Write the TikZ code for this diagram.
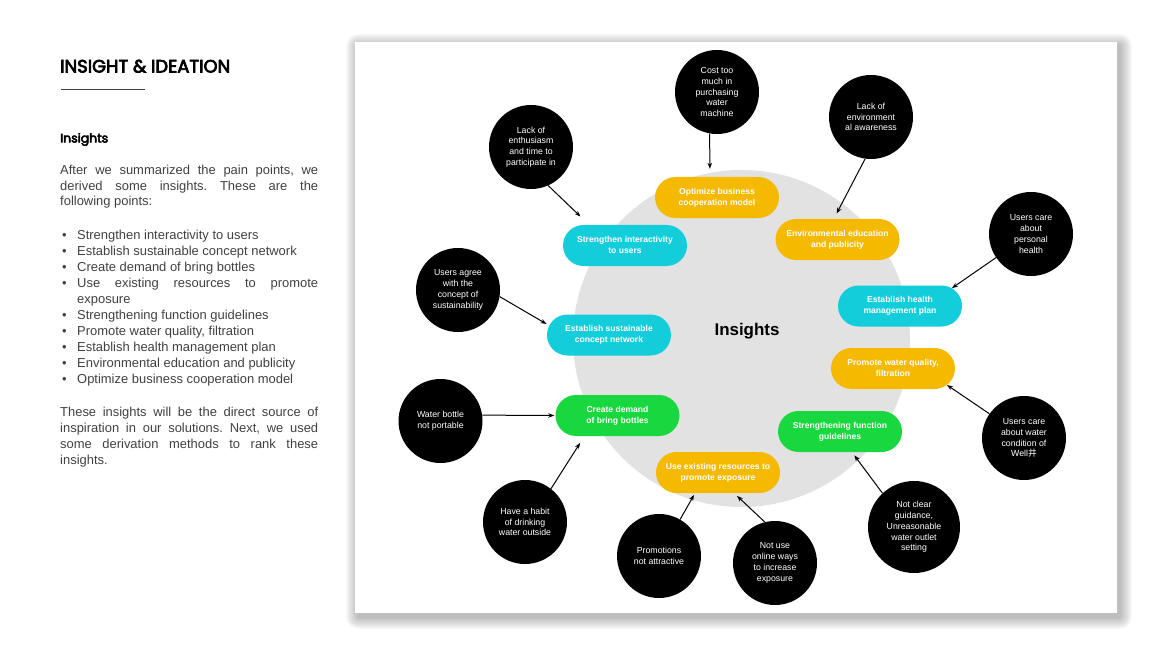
\documentclass[tikz,border=0pt]{standalone}
\usepackage{fontspec}
\setsansfont{Liberation Sans}
\newfontfamily\headfont[FakeBold=4]{Poppins}
\newfontfamily\cjkfont{Noto Sans CJK SC}
\usetikzlibrary{arrows.meta,shapes.misc,calc}
\definecolor{insightYellow}{HTML}{F5B900}
\definecolor{insightCyan}{HTML}{14CDDB}
\definecolor{insightGreen}{HTML}{19D83F}
\definecolor{hubGray}{HTML}{E3E2E3}
\definecolor{bodyGray}{HTML}{404040}

\newcommand{\pilltext}[1]{\makebox[0pt]{\begin{tabular}{@{}c@{}}#1\end{tabular}}}
\newcommand{\insightitem}[1]{\par\hangindent=17bp\hangafter=1\noindent\makebox[17bp][l]{\hspace{2bp}\textbullet}#1}

\begin{document}
\begin{tikzpicture}[
  x=1bp, y=-1bp,
  font=\sffamily,
  >={Stealth[length=6bp,width=4.5bp]},
  pain/.style={circle, fill=black, text=white, minimum size=84bp, inner sep=0pt, align=center,
    font=\sffamily\fontsize{8.8}{10.8}\selectfont},
  insight/.style={rounded rectangle, minimum width=124bp, minimum height=41bp, inner sep=0pt,
    text=white, font=\sffamily\bfseries\fontsize{8.6}{11}\selectfont},
  link/.style={->, line width=1bp, draw=black}
]
  \useasboundingbox (0,0) rectangle (1170,658);

  % Left column
  \node[anchor=base west, inner sep=0pt, font=\headfont\fontsize{18}{20}\selectfont] (heading) at (60,72.5) {INSIGHT \& IDEATION};
  \draw[line width=1bp, draw=bodyGray] (61,90) -- (145,90);
  \node[anchor=base west, inner sep=0pt, font=\headfont\fontsize{12.5}{15}\selectfont] (subhead) at (60,142.5) {Insights};
  \node[anchor=north west, inner sep=0pt, text width=258bp, align=justify, text=bodyGray,
    font={\sffamily\fontsize{13}{16}\selectfont}] (body) at (60,164.5) {%
    \tolerance=9999 \parindent=0pt \frenchspacing
    After we summarized the pain points, we\linebreak derived some insights. These are the\linebreak following points:\par
    \vspace{18bp}%
    \insightitem{Strengthen interactivity to users}
    \insightitem{Establish sustainable concept network}
    \insightitem{Create demand of bring bottles}
    \insightitem{Use existing resources to promote\linebreak exposure}
    \insightitem{Strengthening function guidelines}
    \insightitem{Promote water quality, filtration}
    \insightitem{Establish health management plan}
    \insightitem{Environmental education and publicity}
    \insightitem{Optimize business cooperation model}\par
    \vspace{17bp}%
    These insights will be the direct source of\linebreak inspiration in our solutions. Next, we used\linebreak some derivation methods to rank these\linebreak insights.};

  % Panel with soft shadow
  \foreach \s in {1,...,12} {
    \fill[black, opacity=0.022, rounded corners=\s bp] (358-\s,46-\s) rectangle (1120+\s,617+\s);
  }
  \fill[white] (355,42) rectangle (1117,613);

  % Hub
  \node[circle, fill=hubGray, minimum size=337bp, inner sep=0pt] (hub) at (741.5,338.5) {};
  \node[font=\sffamily\bfseries\fontsize{17}{20}\selectfont] (hubtitle) at (747,331) {Insights};

  % Insights
  \node[insight, fill=insightYellow] (optim)    at (717,197.5)  {\pilltext{Optimize business\\cooperation model}};
  \node[insight, fill=insightCyan]   (interact) at (625,245.5)  {\pilltext{Strengthen interactivity\\to users}};
  \node[insight, fill=insightYellow] (envedu)   at (837.5,239.5){\pilltext{Environmental education\\and publicity}};
  \node[insight, fill=insightCyan]   (health)   at (900,306)    {\pilltext{Establish health\\management plan}};
  \node[insight, fill=insightCyan]   (network)  at (609,335)    {\pilltext{Establish sustainable\\concept network}};
  \node[insight, fill=insightYellow] (quality)  at (893,368.5)  {\pilltext{Promote water quality,\\filtration}};
  \node[insight, fill=insightGreen]  (bottles)  at (617.5,415.5){\pilltext{Create demand\\of bring bottles}};
  \node[insight, fill=insightGreen]  (function) at (840,431.5)  {\pilltext{Strengthening function\\guidelines}};
  \node[insight, fill=insightYellow] (exposure) at (718,472.5)  {\pilltext{Use existing resources to\\promote exposure}};

  % Pain points
  \node[pain] (cost)      at (717,92)    {Cost too\\much in\\purchasing\\water\\machine};
  \node[pain] (aware)     at (871,117)   {Lack of\\environment\\al awareness};
  \node[pain] (enth)      at (531,147)   {Lack of\\enthusiasm\\and time to\\participate in};
  \node[pain] (personal)  at (1031,234)  {Users care\\about\\personal\\health};
  \node[pain] (agree)     at (458,290)   {Users agree\\with the\\concept of\\sustainability};
  \node[pain] (portable)  at (440.5,421) {Water bottle\\not portable};
  \node[pain] (wellwater) at (1024,438)  {Users care\\about water\\condition of\\Well{\cjkfont 井}};
  \node[pain] (habit)     at (525,522)   {Have a habit\\of drinking\\water outside};
  \node[pain] (promo)     at (659,556)   {Promotions\\not attractive};
  \node[pain] (online)    at (775,563)   {Not use\\online ways\\to increase\\exposure};
  \node[pain, minimum size=92bp] (guidance) at (914,527) {Not clear\\guidance,\\Unreasonable\\water outlet\\setting};

  % Links
  \draw[link, shorten >=8bp]  (cost.-100)     -- (optim.109);
  \draw[link, shorten >=6bp]  (aware.-98)     -- (envedu.100);
  \draw[link, shorten >=12bp] (enth.-66)      -- (interact.150);
  \draw[link]                 (personal.-146) -- (health.19);
  \draw[link, shorten >=3bp]  (agree.-9)      -- (network.171);
  \draw[link, shorten >=1bp]  (portable.8)    -- (bottles.180);
  \draw[link, shorten >=8bp]  (habit.52)      -- (bottles.-148);
  \draw[link, shorten >=2bp]  (promo.60)      -- (exposure.-138);
  \draw[link, shorten >=4bp]  (online.104)    -- (exposure.-52);
  \draw[link]                 (wellwater.145) -- (quality.-17);
  \draw[link, shorten >=4bp]  (guidance.133)  -- (function.-60);

\end{tikzpicture}
\end{document}
